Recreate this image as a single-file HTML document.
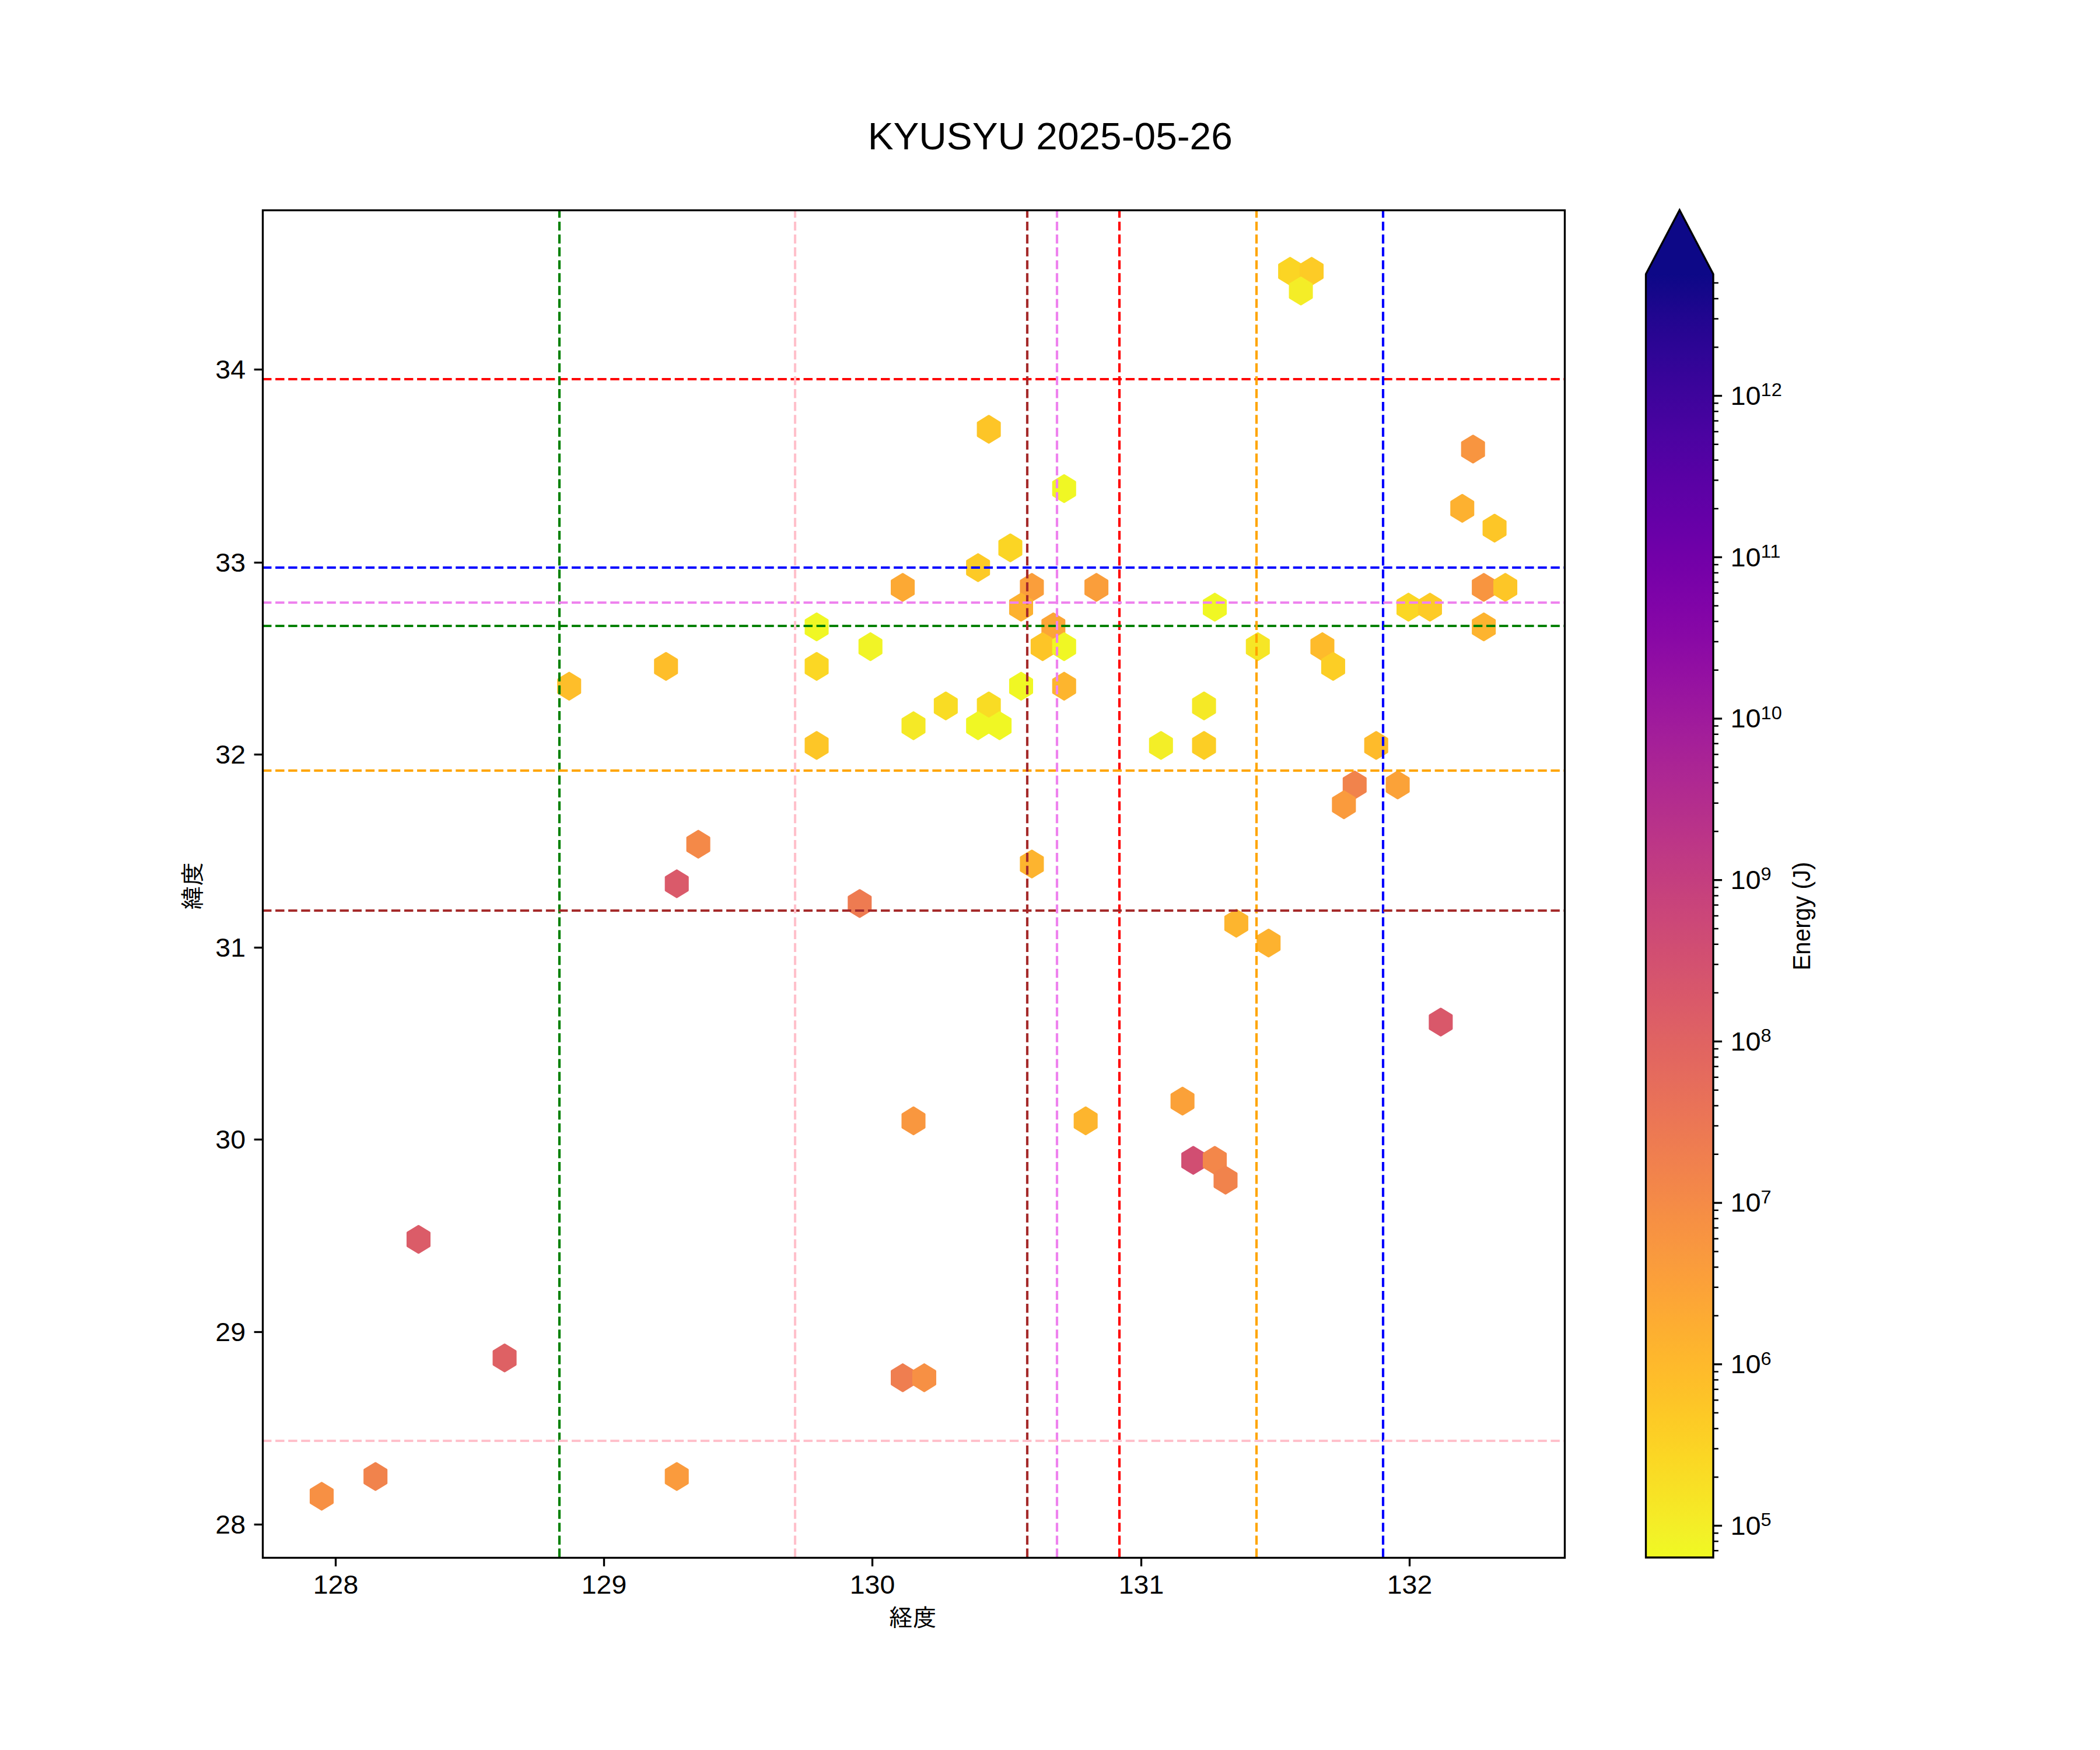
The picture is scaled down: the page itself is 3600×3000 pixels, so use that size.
<!DOCTYPE html>
<html lang="ja"><head><meta charset="utf-8"><title>KYUSYU 2025-05-26</title>
<style>html,body{margin:0;padding:0;background:#fff;}body{width:3600px;height:3000px;overflow:hidden;}svg{display:block;}text{font-family:"Liberation Sans","IPAGothic",sans-serif;fill:#000;}</style>
</head><body>
<svg width="3600" height="3000" viewBox="0 0 3600 3000" role="img" aria-label="KYUSYU 2025-05-26 hexbin energy map">
<rect width="3600" height="3000" fill="#ffffff"/>
<g id="hexbin" stroke-width="4.17" stroke-linejoin="round">
<polygon points="2230.07,453.71 2230.07,476.29 2211.62,487.58 2193.17,476.29 2193.17,453.71 2211.62,442.42" fill="#fbd524" stroke="#fbd524"/>
<polygon points="2266.96,453.71 2266.96,476.29 2248.51,487.58 2230.07,476.29 2230.07,453.71 2248.51,442.42" fill="#fdcb26" stroke="#fdcb26"/>
<polygon points="2248.51,487.58 2248.51,510.16 2230.07,521.45 2211.62,510.16 2211.62,487.58 2230.07,476.29" fill="#f4ed27" stroke="#f4ed27"/>
<polygon points="1713.57,724.68 1713.57,747.26 1695.12,758.55 1676.68,747.26 1676.68,724.68 1695.12,713.39" fill="#fdc527" stroke="#fdc527"/>
<polygon points="2543.65,758.55 2543.65,781.13 2525.21,792.42 2506.76,781.13 2506.76,758.55 2525.21,747.26" fill="#f89540" stroke="#f89540"/>
<polygon points="1842.69,826.29 1842.69,848.87 1824.25,860.16 1805.8,848.87 1805.8,826.29 1824.25,815" fill="#f0f724" stroke="#f0f724"/>
<polygon points="2525.21,860.16 2525.21,882.74 2506.76,894.03 2488.31,882.74 2488.31,860.16 2506.76,848.87" fill="#fdb130" stroke="#fdb130"/>
<polygon points="2580.55,894.03 2580.55,916.61 2562.1,927.9 2543.65,916.61 2543.65,894.03 2562.1,882.74" fill="#fdc627" stroke="#fdc627"/>
<polygon points="1750.46,927.9 1750.46,950.48 1732.02,961.77 1713.57,950.48 1713.57,927.9 1732.02,916.61" fill="#fbd524" stroke="#fbd524"/>
<polygon points="1695.12,961.77 1695.12,984.35 1676.68,995.65 1658.23,984.35 1658.23,961.77 1676.68,950.48" fill="#fdca26" stroke="#fdca26"/>
<polygon points="1566,995.65 1566,1018.23 1547.55,1029.52 1529.11,1018.23 1529.11,995.65 1547.55,984.35" fill="#fca934" stroke="#fca934"/>
<polygon points="1787.36,995.65 1787.36,1018.23 1768.91,1029.52 1750.46,1018.23 1750.46,995.65 1768.91,984.35" fill="#fa9e3b" stroke="#fa9e3b"/>
<polygon points="1898.03,995.65 1898.03,1018.23 1879.59,1029.52 1861.14,1018.23 1861.14,995.65 1879.59,984.35" fill="#fa9e3b" stroke="#fa9e3b"/>
<polygon points="2562.1,995.65 2562.1,1018.23 2543.65,1029.52 2525.21,1018.23 2525.21,995.65 2543.65,984.35" fill="#f89540" stroke="#f89540"/>
<polygon points="2598.99,995.65 2598.99,1018.23 2580.55,1029.52 2562.1,1018.23 2562.1,995.65 2580.55,984.35" fill="#fdc627" stroke="#fdc627"/>
<polygon points="1768.91,1029.52 1768.91,1052.1 1750.46,1063.39 1732.02,1052.1 1732.02,1029.52 1750.46,1018.23" fill="#fdb130" stroke="#fdb130"/>
<polygon points="2100.94,1029.52 2100.94,1052.1 2082.5,1063.39 2064.05,1052.1 2064.05,1029.52 2082.5,1018.23" fill="#f0f724" stroke="#f0f724"/>
<polygon points="2432.98,1029.52 2432.98,1052.1 2414.53,1063.39 2396.08,1052.1 2396.08,1029.52 2414.53,1018.23" fill="#fbd724" stroke="#fbd724"/>
<polygon points="2469.87,1029.52 2469.87,1052.1 2451.42,1063.39 2432.98,1052.1 2432.98,1029.52 2451.42,1018.23" fill="#fdcb26" stroke="#fdcb26"/>
<polygon points="1418.43,1063.39 1418.43,1085.97 1399.98,1097.26 1381.54,1085.97 1381.54,1063.39 1399.98,1052.1" fill="#f0f724" stroke="#f0f724"/>
<polygon points="1824.25,1063.39 1824.25,1085.97 1805.8,1097.26 1787.36,1085.97 1787.36,1063.39 1805.8,1052.1" fill="#fca636" stroke="#fca636"/>
<polygon points="2562.1,1063.39 2562.1,1085.97 2543.65,1097.26 2525.21,1085.97 2525.21,1063.39 2543.65,1052.1" fill="#fdb42f" stroke="#fdb42f"/>
<polygon points="1510.66,1097.26 1510.66,1119.84 1492.21,1131.13 1473.77,1119.84 1473.77,1097.26 1492.21,1085.97" fill="#f1f426" stroke="#f1f426"/>
<polygon points="1805.8,1097.26 1805.8,1119.84 1787.36,1131.13 1768.91,1119.84 1768.91,1097.26 1787.36,1085.97" fill="#fdc527" stroke="#fdc527"/>
<polygon points="1842.69,1097.26 1842.69,1119.84 1824.25,1131.13 1805.8,1119.84 1805.8,1097.26 1824.25,1085.97" fill="#f0f724" stroke="#f0f724"/>
<polygon points="2174.73,1097.26 2174.73,1119.84 2156.28,1131.13 2137.83,1119.84 2137.83,1097.26 2156.28,1085.97" fill="#f6e626" stroke="#f6e626"/>
<polygon points="2285.4,1097.26 2285.4,1119.84 2266.96,1131.13 2248.51,1119.84 2248.51,1097.26 2266.96,1085.97" fill="#febb2b" stroke="#febb2b"/>
<polygon points="1160.18,1131.13 1160.18,1153.71 1141.74,1165 1123.29,1153.71 1123.29,1131.13 1141.74,1119.84" fill="#febe2a" stroke="#febe2a"/>
<polygon points="1418.43,1131.13 1418.43,1153.71 1399.98,1165 1381.54,1153.71 1381.54,1131.13 1399.98,1119.84" fill="#fbd724" stroke="#fbd724"/>
<polygon points="2303.85,1131.13 2303.85,1153.71 2285.4,1165 2266.96,1153.71 2266.96,1131.13 2285.4,1119.84" fill="#fcce25" stroke="#fcce25"/>
<polygon points="994.17,1165 994.17,1187.58 975.72,1198.87 957.27,1187.58 957.27,1165 975.72,1153.71" fill="#febe2a" stroke="#febe2a"/>
<polygon points="1768.91,1165 1768.91,1187.58 1750.46,1198.87 1732.02,1187.58 1732.02,1165 1750.46,1153.71" fill="#f0f724" stroke="#f0f724"/>
<polygon points="1842.69,1165 1842.69,1187.58 1824.25,1198.87 1805.8,1187.58 1805.8,1165 1824.25,1153.71" fill="#fdb52e" stroke="#fdb52e"/>
<polygon points="1639.79,1198.87 1639.79,1221.45 1621.34,1232.74 1602.89,1221.45 1602.89,1198.87 1621.34,1187.58" fill="#f9dc24" stroke="#f9dc24"/>
<polygon points="1713.57,1198.87 1713.57,1221.45 1695.12,1232.74 1676.68,1221.45 1676.68,1198.87 1695.12,1187.58" fill="#f9dc24" stroke="#f9dc24"/>
<polygon points="2082.5,1198.87 2082.5,1221.45 2064.05,1232.74 2045.6,1221.45 2045.6,1198.87 2064.05,1187.58" fill="#f5e926" stroke="#f5e926"/>
<polygon points="1584.45,1232.74 1584.45,1255.32 1566,1266.61 1547.55,1255.32 1547.55,1232.74 1566,1221.45" fill="#f5e926" stroke="#f5e926"/>
<polygon points="1695.12,1232.74 1695.12,1255.32 1676.68,1266.61 1658.23,1255.32 1658.23,1232.74 1676.68,1221.45" fill="#f0f724" stroke="#f0f724"/>
<polygon points="1732.02,1232.74 1732.02,1255.32 1713.57,1266.61 1695.12,1255.32 1695.12,1232.74 1713.57,1221.45" fill="#f0f724" stroke="#f0f724"/>
<polygon points="1418.43,1266.61 1418.43,1289.19 1399.98,1300.48 1381.54,1289.19 1381.54,1266.61 1399.98,1255.32" fill="#fdc627" stroke="#fdc627"/>
<polygon points="2008.71,1266.61 2008.71,1289.19 1990.26,1300.48 1971.82,1289.19 1971.82,1266.61 1990.26,1255.32" fill="#f3ee27" stroke="#f3ee27"/>
<polygon points="2082.5,1266.61 2082.5,1289.19 2064.05,1300.48 2045.6,1289.19 2045.6,1266.61 2064.05,1255.32" fill="#fcce25" stroke="#fcce25"/>
<polygon points="2377.64,1266.61 2377.64,1289.19 2359.19,1300.48 2340.74,1289.19 2340.74,1266.61 2359.19,1255.32" fill="#febb2b" stroke="#febb2b"/>
<polygon points="2340.74,1334.35 2340.74,1356.94 2322.3,1368.23 2303.85,1356.94 2303.85,1334.35 2322.3,1323.06" fill="#f1834c" stroke="#f1834c"/>
<polygon points="2414.53,1334.35 2414.53,1356.94 2396.08,1368.23 2377.64,1356.94 2377.64,1334.35 2396.08,1323.06" fill="#fba238" stroke="#fba238"/>
<polygon points="2322.3,1368.23 2322.3,1390.81 2303.85,1402.1 2285.4,1390.81 2285.4,1368.23 2303.85,1356.94" fill="#fa9b3d" stroke="#fa9b3d"/>
<polygon points="1215.52,1435.97 1215.52,1458.55 1197.07,1469.84 1178.63,1458.55 1178.63,1435.97 1197.07,1424.68" fill="#f48948" stroke="#f48948"/>
<polygon points="1787.36,1469.84 1787.36,1492.42 1768.91,1503.71 1750.46,1492.42 1750.46,1469.84 1768.91,1458.55" fill="#fdb42f" stroke="#fdb42f"/>
<polygon points="1178.63,1503.71 1178.63,1526.29 1160.18,1537.58 1141.74,1526.29 1141.74,1503.71 1160.18,1492.42" fill="#da5a6a" stroke="#da5a6a"/>
<polygon points="1492.21,1537.58 1492.21,1560.16 1473.77,1571.45 1455.32,1560.16 1455.32,1537.58 1473.77,1526.29" fill="#ee7b51" stroke="#ee7b51"/>
<polygon points="2137.83,1571.45 2137.83,1594.03 2119.39,1605.32 2100.94,1594.03 2100.94,1571.45 2119.39,1560.16" fill="#fdb52e" stroke="#fdb52e"/>
<polygon points="2193.17,1605.32 2193.17,1627.9 2174.73,1639.19 2156.28,1627.9 2156.28,1605.32 2174.73,1594.03" fill="#fdb22f" stroke="#fdb22f"/>
<polygon points="2488.31,1740.81 2488.31,1763.39 2469.87,1774.68 2451.42,1763.39 2451.42,1740.81 2469.87,1729.52" fill="#d9586a" stroke="#d9586a"/>
<polygon points="2045.6,1876.29 2045.6,1898.87 2027.16,1910.16 2008.71,1898.87 2008.71,1876.29 2027.16,1865" fill="#fba139" stroke="#fba139"/>
<polygon points="1584.45,1910.16 1584.45,1932.74 1566,1944.03 1547.55,1932.74 1547.55,1910.16 1566,1898.87" fill="#f9973f" stroke="#f9973f"/>
<polygon points="1879.59,1910.16 1879.59,1932.74 1861.14,1944.03 1842.69,1932.74 1842.69,1910.16 1861.14,1898.87" fill="#fdb52e" stroke="#fdb52e"/>
<polygon points="2064.05,1977.9 2064.05,2000.48 2045.6,2011.77 2027.16,2000.48 2027.16,1977.9 2045.6,1966.61" fill="#d14e72" stroke="#d14e72"/>
<polygon points="2100.94,1977.9 2100.94,2000.48 2082.5,2011.77 2064.05,2000.48 2064.05,1977.9 2082.5,1966.61" fill="#f3874a" stroke="#f3874a"/>
<polygon points="2119.39,2011.77 2119.39,2034.35 2100.94,2045.65 2082.5,2034.35 2082.5,2011.77 2100.94,2000.48" fill="#f1834c" stroke="#f1834c"/>
<polygon points="735.92,2113.39 735.92,2135.97 717.47,2147.26 699.02,2135.97 699.02,2113.39 717.47,2102.1" fill="#db5c68" stroke="#db5c68"/>
<polygon points="883.49,2316.61 883.49,2339.19 865.04,2350.48 846.6,2339.19 846.6,2316.61 865.04,2305.32" fill="#de6164" stroke="#de6164"/>
<polygon points="1566,2350.48 1566,2373.06 1547.55,2384.35 1529.11,2373.06 1529.11,2350.48 1547.55,2339.19" fill="#ef7e50" stroke="#ef7e50"/>
<polygon points="1602.89,2350.48 1602.89,2373.06 1584.45,2384.35 1566,2373.06 1566,2350.48 1584.45,2339.19" fill="#f79044" stroke="#f79044"/>
<polygon points="662.13,2519.84 662.13,2542.42 643.69,2553.71 625.24,2542.42 625.24,2519.84 643.69,2508.55" fill="#f1834c" stroke="#f1834c"/>
<polygon points="1178.63,2519.84 1178.63,2542.42 1160.18,2553.71 1141.74,2542.42 1141.74,2519.84 1160.18,2508.55" fill="#fa9b3d" stroke="#fa9b3d"/>
<polygon points="569.9,2553.71 569.9,2576.29 551.45,2587.58 533.01,2576.29 533.01,2553.71 551.45,2542.42" fill="#f79044" stroke="#f79044"/>
</g>
<g id="reflines" fill="none" stroke-width="4.17" stroke-dasharray="15.417 6.667">
<path d="M1919,2670 V360" stroke="#ff0000"/>
<path d="M450,650 H2682" stroke="#ff0000"/>
<path d="M2371,2670 V360" stroke="#0000ff"/>
<path d="M450,973 H2682" stroke="#0000ff"/>
<path d="M959,2670 V360" stroke="#008000"/>
<path d="M450,1073 H2682" stroke="#008000"/>
<path d="M2154,2670 V360" stroke="#ffa500"/>
<path d="M450,1321 H2682" stroke="#ffa500"/>
<path d="M1761,2670 V360" stroke="#a52a2a"/>
<path d="M450,1561 H2682" stroke="#a52a2a"/>
<path d="M1812,2670 V360" stroke="#ee82ee"/>
<path d="M450,1033 H2682" stroke="#ee82ee"/>
<path d="M1363,2670 V360" stroke="#ffc0cb"/>
<path d="M450,2470 H2682" stroke="#ffc0cb"/>
</g>
<rect x="450.5" y="360.5" width="2232" height="2310" fill="none" stroke="#000" stroke-width="3.333" stroke-linejoin="miter"/>
<g id="ticks" stroke="#000" stroke-width="3.333" fill="none">
<path d="M575.5,2670.5 v14.7"/>
<path d="M1035.5,2670.5 v14.7"/>
<path d="M1495.5,2670.5 v14.7"/>
<path d="M1956.5,2670.5 v14.7"/>
<path d="M2416.5,2670.5 v14.7"/>
<path d="M450.5,633.5 h-14.9"/>
<path d="M450.5,964.5 h-14.9"/>
<path d="M450.5,1293.5 h-14.9"/>
<path d="M450.5,1624.5 h-14.9"/>
<path d="M450.5,1953.5 h-14.9"/>
<path d="M450.5,2283.5 h-14.9"/>
<path d="M450.5,2613.5 h-14.9"/>
</g>
<g id="ticklabels" font-size="44">
<text transform="translate(575.5,2731.8) scale(1.055,1)" text-anchor="middle">128</text>
<text transform="translate(1035.5,2731.8) scale(1.055,1)" text-anchor="middle">129</text>
<text transform="translate(1495.5,2731.8) scale(1.055,1)" text-anchor="middle">130</text>
<text transform="translate(1956.5,2731.8) scale(1.055,1)" text-anchor="middle">131</text>
<text transform="translate(2416.5,2731.8) scale(1.055,1)" text-anchor="middle">132</text>
<text transform="translate(421,649.1) scale(1.055,1)" text-anchor="end">34</text>
<text transform="translate(421,980.1) scale(1.055,1)" text-anchor="end">33</text>
<text transform="translate(421,1309.1) scale(1.055,1)" text-anchor="end">32</text>
<text transform="translate(421,1640.1) scale(1.055,1)" text-anchor="end">31</text>
<text transform="translate(421,1969.1) scale(1.055,1)" text-anchor="end">30</text>
<text transform="translate(421,2299.1) scale(1.055,1)" text-anchor="end">29</text>
<text transform="translate(421,2629.1) scale(1.055,1)" text-anchor="end">28</text>
</g>
<text transform="translate(1800.2,255.9) scale(1.02,1)" font-size="64.5" text-anchor="middle">KYUSYU 2025-05-26</text>
<text x="1565" y="2788" font-size="41.67" text-anchor="middle">経度</text>
<text transform="translate(344.5,1518.5) rotate(-90)" font-size="41.67" text-anchor="middle">緯度</text>
<defs><linearGradient id="plasma" x1="0" y1="1" x2="0" y2="0">
<stop offset="0%" stop-color="#f0f921"/>
<stop offset="1.56%" stop-color="#f2f227"/>
<stop offset="3.12%" stop-color="#f5eb27"/>
<stop offset="4.69%" stop-color="#f7e425"/>
<stop offset="6.25%" stop-color="#f9dd25"/>
<stop offset="7.81%" stop-color="#fbd724"/>
<stop offset="9.38%" stop-color="#fcd025"/>
<stop offset="10.94%" stop-color="#fdca26"/>
<stop offset="12.5%" stop-color="#fdc328"/>
<stop offset="14.06%" stop-color="#febd2a"/>
<stop offset="15.62%" stop-color="#feb72d"/>
<stop offset="17.19%" stop-color="#fdb130"/>
<stop offset="18.75%" stop-color="#fdab33"/>
<stop offset="20.31%" stop-color="#fca537"/>
<stop offset="21.88%" stop-color="#fb9f3a"/>
<stop offset="23.44%" stop-color="#f99a3e"/>
<stop offset="25%" stop-color="#f89441"/>
<stop offset="26.56%" stop-color="#f68f44"/>
<stop offset="28.12%" stop-color="#f48948"/>
<stop offset="29.69%" stop-color="#f2844b"/>
<stop offset="31.25%" stop-color="#f07f4f"/>
<stop offset="32.81%" stop-color="#ed7a52"/>
<stop offset="34.38%" stop-color="#eb7556"/>
<stop offset="35.94%" stop-color="#e87059"/>
<stop offset="37.5%" stop-color="#e56b5d"/>
<stop offset="39.06%" stop-color="#e26660"/>
<stop offset="40.62%" stop-color="#df6263"/>
<stop offset="42.19%" stop-color="#dc5d67"/>
<stop offset="43.75%" stop-color="#d9586a"/>
<stop offset="45.31%" stop-color="#d5546e"/>
<stop offset="46.88%" stop-color="#d24f71"/>
<stop offset="48.44%" stop-color="#ce4b75"/>
<stop offset="50%" stop-color="#cb4679"/>
<stop offset="51.56%" stop-color="#c7427c"/>
<stop offset="53.12%" stop-color="#c33d80"/>
<stop offset="54.69%" stop-color="#bf3984"/>
<stop offset="56.25%" stop-color="#bb3488"/>
<stop offset="57.81%" stop-color="#b6308b"/>
<stop offset="59.38%" stop-color="#b22b8f"/>
<stop offset="60.94%" stop-color="#ad2793"/>
<stop offset="62.5%" stop-color="#a82296"/>
<stop offset="64.06%" stop-color="#a31e9a"/>
<stop offset="65.62%" stop-color="#9e199d"/>
<stop offset="67.19%" stop-color="#99159f"/>
<stop offset="68.75%" stop-color="#9410a2"/>
<stop offset="70.31%" stop-color="#8e0ca4"/>
<stop offset="71.88%" stop-color="#8808a6"/>
<stop offset="73.44%" stop-color="#8305a7"/>
<stop offset="75%" stop-color="#7d03a8"/>
<stop offset="76.56%" stop-color="#7701a8"/>
<stop offset="78.12%" stop-color="#7100a8"/>
<stop offset="79.69%" stop-color="#6a00a8"/>
<stop offset="81.25%" stop-color="#6400a7"/>
<stop offset="82.81%" stop-color="#5e01a6"/>
<stop offset="84.38%" stop-color="#5801a4"/>
<stop offset="85.94%" stop-color="#5102a3"/>
<stop offset="87.5%" stop-color="#4b03a1"/>
<stop offset="89.06%" stop-color="#44039e"/>
<stop offset="90.62%" stop-color="#3e049c"/>
<stop offset="92.19%" stop-color="#370499"/>
<stop offset="93.75%" stop-color="#2f0596"/>
<stop offset="95.31%" stop-color="#280592"/>
<stop offset="96.88%" stop-color="#20068f"/>
<stop offset="98.44%" stop-color="#16078a"/>
<stop offset="100%" stop-color="#0d0887"/>
</linearGradient></defs>
<rect x="2821.5" y="470" width="115.5" height="2200" fill="url(#plasma)"/>
<polygon points="2821.5,470.5 2879.25,360 2937,470.5" fill="#0d0887"/>
<path d="M2821.5,2670 V470 L2879.25,360 L2937,470 V2670 Z" fill="none" stroke="#000" stroke-width="3.333" stroke-linejoin="miter"/>
<g id="cbticks" stroke="#000" fill="none">
<path d="M2937.5,2615.5 h14.58" stroke-width="3.333"/>
<path d="M2937.5,2338.79 h14.58" stroke-width="3.333"/>
<path d="M2937.5,2062.08 h14.58" stroke-width="3.333"/>
<path d="M2937.5,1785.37 h14.58" stroke-width="3.333"/>
<path d="M2937.5,1508.66 h14.58" stroke-width="3.333"/>
<path d="M2937.5,1231.95 h14.58" stroke-width="3.333"/>
<path d="M2937.5,955.24 h14.58" stroke-width="3.333"/>
<path d="M2937.5,678.53 h14.58" stroke-width="3.333"/>
<path d="M2937.5,2658.36 h8.33 M2937.5,2642.32 h8.33 M2937.5,2628.16 h8.33 M2937.5,2532.2 h8.33 M2937.5,2483.48 h8.33 M2937.5,2448.9 h8.33 M2937.5,2422.09 h8.33 M2937.5,2400.18 h8.33 M2937.5,2381.65 h8.33 M2937.5,2365.61 h8.33 M2937.5,2351.45 h8.33 M2937.5,2255.49 h8.33 M2937.5,2206.77 h8.33 M2937.5,2172.19 h8.33 M2937.5,2145.38 h8.33 M2937.5,2123.47 h8.33 M2937.5,2104.94 h8.33 M2937.5,2088.9 h8.33 M2937.5,2074.74 h8.33 M2937.5,1978.78 h8.33 M2937.5,1930.06 h8.33 M2937.5,1895.48 h8.33 M2937.5,1868.67 h8.33 M2937.5,1846.76 h8.33 M2937.5,1828.23 h8.33 M2937.5,1812.19 h8.33 M2937.5,1798.03 h8.33 M2937.5,1702.07 h8.33 M2937.5,1653.35 h8.33 M2937.5,1618.77 h8.33 M2937.5,1591.96 h8.33 M2937.5,1570.05 h8.33 M2937.5,1551.52 h8.33 M2937.5,1535.48 h8.33 M2937.5,1521.32 h8.33 M2937.5,1425.36 h8.33 M2937.5,1376.64 h8.33 M2937.5,1342.06 h8.33 M2937.5,1315.25 h8.33 M2937.5,1293.34 h8.33 M2937.5,1274.81 h8.33 M2937.5,1258.77 h8.33 M2937.5,1244.61 h8.33 M2937.5,1148.65 h8.33 M2937.5,1099.93 h8.33 M2937.5,1065.35 h8.33 M2937.5,1038.54 h8.33 M2937.5,1016.63 h8.33 M2937.5,998.1 h8.33 M2937.5,982.06 h8.33 M2937.5,967.9 h8.33 M2937.5,871.94 h8.33 M2937.5,823.22 h8.33 M2937.5,788.64 h8.33 M2937.5,761.83 h8.33 M2937.5,739.92 h8.33 M2937.5,721.39 h8.33 M2937.5,705.35 h8.33 M2937.5,691.19 h8.33 M2937.5,595.23 h8.33 M2937.5,546.51 h8.33 M2937.5,511.93 h8.33 M2937.5,485.12 h8.33" stroke-width="2.5"/>
</g>
<g id="cblabels" font-size="44">
<text transform="translate(2966.5,2630.9) scale(1.065,1)">10<tspan font-size="30.5" dy="-14.6">5</tspan></text>
<text transform="translate(2966.5,2354.19) scale(1.065,1)">10<tspan font-size="30.5" dy="-14.6">6</tspan></text>
<text transform="translate(2966.5,2077.48) scale(1.065,1)">10<tspan font-size="30.5" dy="-14.6">7</tspan></text>
<text transform="translate(2966.5,1800.77) scale(1.065,1)">10<tspan font-size="30.5" dy="-14.6">8</tspan></text>
<text transform="translate(2966.5,1524.06) scale(1.065,1)">10<tspan font-size="30.5" dy="-14.6">9</tspan></text>
<text transform="translate(2966.5,1247.35) scale(1.065,1)">10<tspan font-size="30.5" dy="-14.6">10</tspan></text>
<text transform="translate(2966.5,970.64) scale(1.065,1)">10<tspan font-size="30.5" dy="-14.6">11</tspan></text>
<text transform="translate(2966.5,693.93) scale(1.065,1)">10<tspan font-size="30.5" dy="-14.6">12</tspan></text>
</g>
<text transform="translate(3102.7,1570.6) rotate(-90) scale(0.968,1)" font-size="41.67" text-anchor="middle">Energy (J)</text>
</svg>
</body></html>
